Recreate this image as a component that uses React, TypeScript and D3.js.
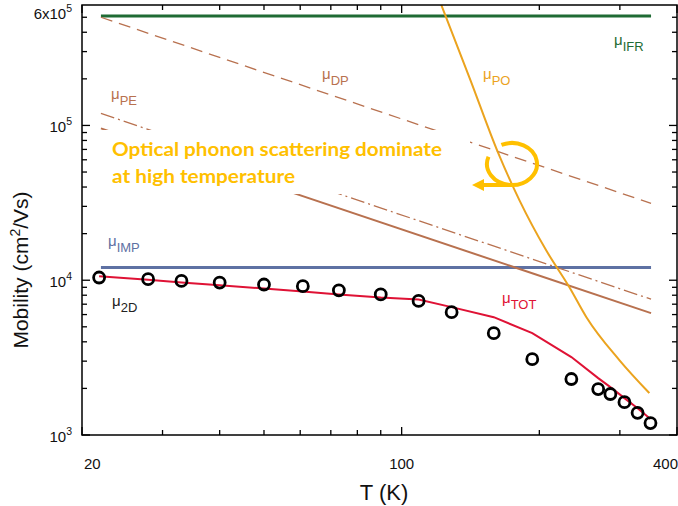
import React from "react";
import * as d3 from "d3";

// ---- data ----
const T_EXP = [21.8, 27.9, 33.0, 40.0, 50.0, 60.8, 72.9, 90.0, 108.9, 128.6, 159, 193, 235, 269, 286, 307, 328, 350];
const MU_2D = [10410, 10150, 9900, 9660, 9380, 9150, 8610, 8090, 7350, 6220, 4550, 3090, 2300, 1980, 1840, 1630, 1390, 1195];
const MU_TOT = [10610, 10060, 9680, 9280, 8840, 8460, 8090, 7720, 7500, 6700, 5770, 4550, 3190, 2330, 2040, 1730, 1490, 1270];

const T_RANGE = [22, 351];
const MU_IMP = [12080, 12080];
const MU_IFR = [510000, 510000];
const MU_DP = [500000, 31400];
const MU_PE = [119500, 7540];
const MU_AC = [95700, 6130];

const T_PO = [122.1, 141.5, 162.3, 181.0, 207.0, 232.7, 253.5, 299.2, 347.9];
const MU_PO = [600000, 195100, 67260, 32820, 15610, 9013, 5772, 3047, 1866];

const X_MAJOR = [20, 100, 400];
const X_MINOR = [30, 40, 50, 60, 70, 80, 90, 200, 300];
const Y_MAJOR = [1000, 10000, 100000];
const Y_MINOR = [2000, 3000, 4000, 5000, 6000, 7000, 8000, 9000, 20000, 30000, 40000, 50000, 60000, 70000, 80000, 90000, 200000, 300000, 400000, 500000];

const W = 678, H = 506;
const L = 82, R = 677, T = 5, B = 435;

const C_BROWN = "#B8714F";
const C_GREEN = "#1F6B34";
const C_BLUE = "#5E71A3";
const C_ORANGE = "#EBA31E";
const C_RED = "#DF1235";
const C_GOLD = "#FFC000";

export default function App() {
  const x = d3.scaleLog().domain([20, 400]).range([L, R]);
  const y = d3.scaleLog().domain([1000, 600000]).range([B, T]);
  const line = d3.line<[number, number]>().x((d) => x(d[0])).y((d) => y(d[1]));
  const curve = d3.line<[number, number]>().x((d) => x(d[0])).y((d) => y(d[1])).curve(d3.curveMonotoneX);
  const zip = (a: number[], b: number[]) => a.map((v, i) => [v, b[i]] as [number, number]);

  const font = "'Liberation Sans', Arial, sans-serif";

  // arrow loop
  const cx = 512, cy = 164, rx = 25, ry = 21;
  const pt = (deg: number) => {
    const r = (deg * Math.PI) / 180;
    return [cx + rx * Math.cos(r), cy - ry * Math.sin(r)];
  };
  const p1 = pt(115), p2 = pt(160);
  const loop = `M${p1[0]},${p1[1]} A${rx},${ry} 0 1 1 ${p2[0]},${p2[1]}`;

  const label = (xx: number, yy: number, sub: string, color: string) => (
    <text x={xx} y={yy} fill={color} fontFamily={font} fontSize={15}>
      μ<tspan dy={6} fontSize={13}>{sub}</tspan>
    </text>
  );

  return (
    <div style={{ position: "absolute", left: 0, top: 0 }}>
      <svg width={W} height={H} style={{ display: "block", background: "#fff" }}>
        {/* horizontal lines */}
        <path d={line(zip(T_RANGE, MU_IFR))!} stroke={C_GREEN} strokeWidth={3} fill="none" />
        <path d={line(zip(T_RANGE, MU_IMP))!} stroke={C_BLUE} strokeWidth={3} fill="none" />
        {/* brown lines */}
        <path d={line(zip(T_RANGE, MU_DP))!} stroke={C_BROWN} strokeWidth={1.3} strokeDasharray="12 7" fill="none" />
        <path d={line(zip(T_RANGE, MU_PE))!} stroke={C_BROWN} strokeWidth={1.3} strokeDasharray="14 4 2 4" fill="none" />
        <path d={line(zip(T_RANGE, MU_AC))!} stroke={C_BROWN} strokeWidth={2} fill="none" />
        {/* white text box */}
        <rect x={103} y={130} width={367} height={64} fill="#fff" />
        {/* PO */}
        <path d={curve(zip(T_PO, MU_PO))!} stroke={C_ORANGE} strokeWidth={2} fill="none" />
        {/* TOT */}
        <path d={line(zip(T_EXP, MU_TOT))!} stroke={C_RED} strokeWidth={2} fill="none" />
        {/* experimental */}
        {T_EXP.map((t, i) => (
          <circle key={i} cx={x(t)} cy={y(MU_2D[i])} r={5.5} fill="none" stroke="#000" strokeWidth={2.8} />
        ))}

        {/* annotation */}
        <text fontFamily="Lato, 'Open Sans', sans-serif" fontWeight={700} fontSize={19.5} fill={C_GOLD}>
          <tspan x={112} y={156} textLength={330} lengthAdjust="spacingAndGlyphs">Optical phonon scattering dominate</tspan>
          <tspan x={112} y={183} textLength={183} lengthAdjust="spacingAndGlyphs">at high temperature</tspan>
        </text>
        <path d={loop} stroke={C_GOLD} strokeWidth={4} fill="none" />
        <path d={`M${cx},${cy + ry} L480,${cy + ry}`} stroke={C_GOLD} strokeWidth={4} fill="none" />
        <path d={`M472,${cy + ry} L484,${cy + ry - 6} L484,${cy + ry + 6} Z`} fill={C_GOLD} />

        {/* labels */}
        {label(614, 45, "IFR", C_GREEN)}
        {label(322, 79, "DP", C_BROWN)}
        {label(483, 79, "PO", C_ORANGE)}
        {label(111, 99, "PE", C_BROWN)}
        {label(108, 246, "IMP", C_BLUE)}
        {label(112, 306, "2D", "#222")}
        {label(502, 303, "TOT", C_RED)}

        {/* frame */}
        <rect x={L} y={T} width={R - L} height={B - T} fill="none" stroke="#000" strokeWidth={1.5} />
        {X_MAJOR.concat(X_MINOR).map((t, i) => {
          const len = X_MAJOR.includes(t) ? 8 : 5;
          return (
            <g key={"xt" + i}>
              <line x1={x(t)} x2={x(t)} y1={B} y2={B - len} stroke="#000" strokeWidth={1.3} />
              <line x1={x(t)} x2={x(t)} y1={T} y2={T + len} stroke="#000" strokeWidth={1.3} />
            </g>
          );
        })}
        {Y_MAJOR.concat(Y_MINOR).map((v, i) => {
          const len = Y_MAJOR.includes(v) ? 8 : 5;
          return (
            <g key={"yt" + i}>
              <line x1={L} x2={L + len} y1={y(v)} y2={y(v)} stroke="#000" strokeWidth={1.3} />
              <line x1={R} x2={R - len} y1={y(v)} y2={y(v)} stroke="#000" strokeWidth={1.3} />
            </g>
          );
        })}

        {/* x tick labels */}
        <g fontFamily={font} fontSize={15} fill="#111">
          <text x={84} y={469}>20</text>
          <text x={x(100)} y={469} textAnchor="middle">100</text>
          <text x={678} y={469} textAnchor="end">400</text>
        </g>
        {/* y tick labels */}
        <g fontFamily={font} fontSize={15} fill="#111" textAnchor="end">
          <text x={72} y={19}>6x10<tspan fontSize={10.5} dy={-7}>5</tspan></text>
          <text x={72} y={132}>10<tspan fontSize={10.5} dy={-7}>5</tspan></text>
          <text x={72} y={287}>10<tspan fontSize={10.5} dy={-7}>4</tspan></text>
          <text x={72} y={442}>10<tspan fontSize={10.5} dy={-7}>3</tspan></text>
        </g>

        <text x={384} y={500} textAnchor="middle" fontFamily={font} fontSize={22} fill="#111">T (K)</text>
        <text transform="translate(28,270) rotate(-90)" textAnchor="middle" fontFamily={font} fontSize={21} fill="#111">
          Mobility (cm<tspan fontSize={14} dy={-8}>2</tspan><tspan dy={8}>/Vs)</tspan>
        </text>
      </svg>
    </div>
  );
}
